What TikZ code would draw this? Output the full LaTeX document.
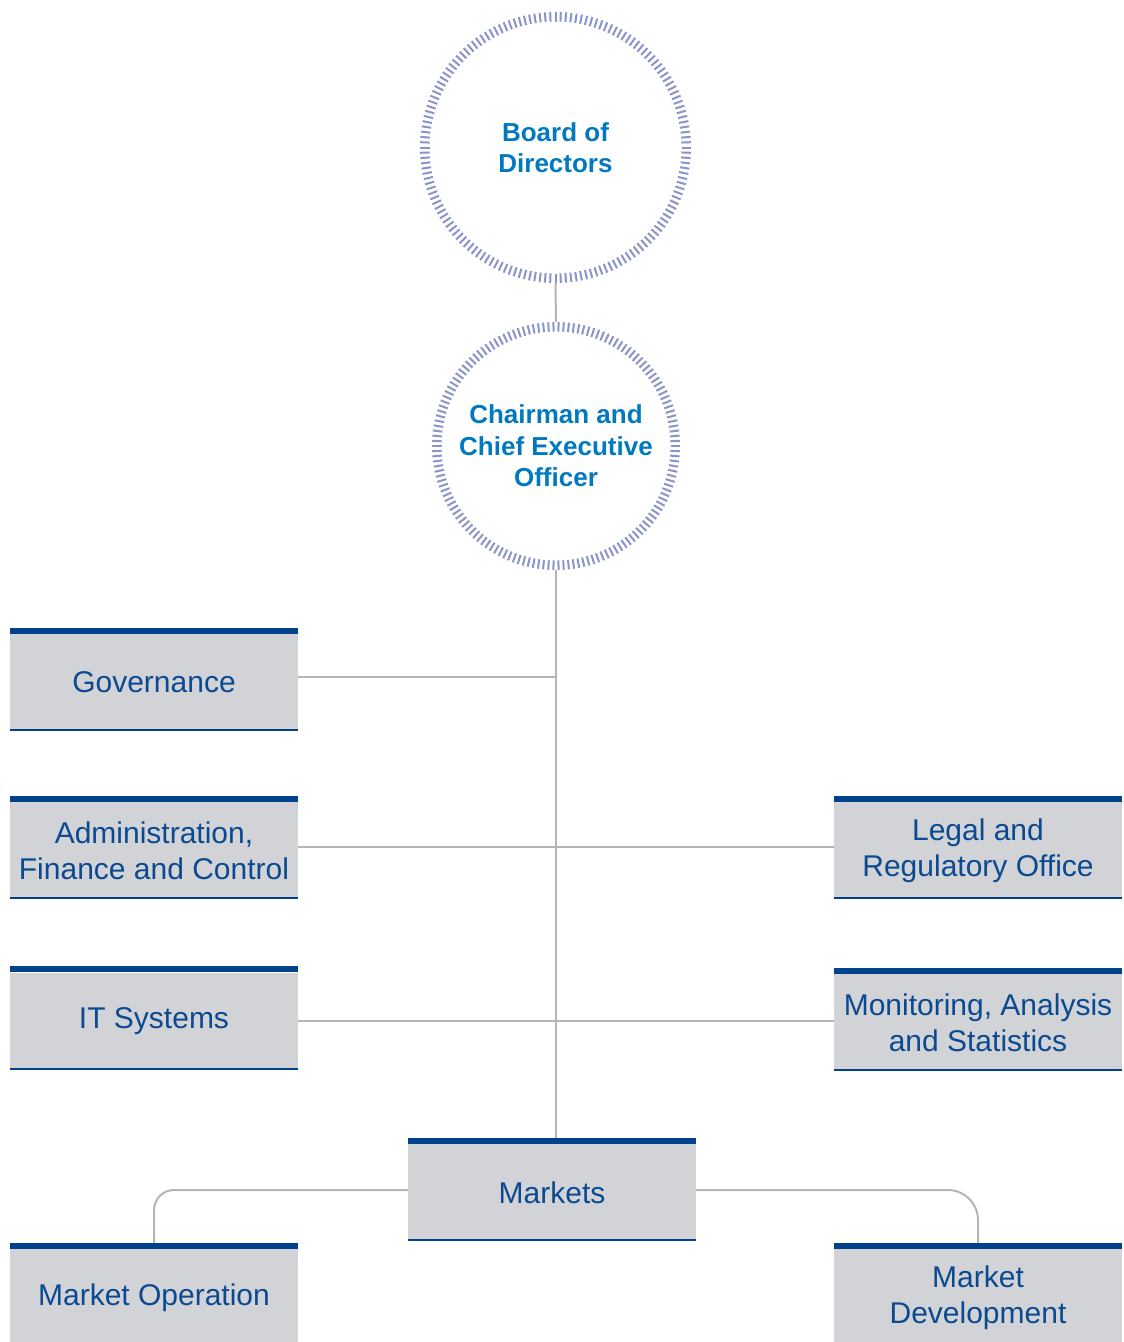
\documentclass[tikz,border=0pt]{standalone}
\usepackage{fontspec}
\setmainfont{Liberation Sans}
\definecolor{boxgray}{HTML}{D1D3D6}
\definecolor{barblue}{HTML}{00428C}
\definecolor{unitblue}{HTML}{0B4A91}
\definecolor{connc}{HTML}{B5B5B3}
\definecolor{circtext}{HTML}{0079C1}
\definecolor{tickc}{HTML}{8A94C8}
\begin{document}
\begin{tikzpicture}[x=1pt,y=-1pt,
  unit/.style={rectangle, fill=boxgray, minimum width=288pt, minimum height=97pt, inner sep=0pt,
    text=unitblue, font=\fontsize{30}{36}\selectfont, align=center},
  roundnode/.style={circle, inner sep=0pt, text=circtext,
    font=\bfseries\fontsize{26}{31.5}\selectfont, align=center},
  conn/.style={draw=connc, line width=2pt},
  tickmark/.style={draw=tickc, line width=2pt},
  topbar/.style={draw=barblue, line width=6pt},
  botline/.style={draw=barblue, line width=2pt}]
\useasboundingbox (0,0) rectangle (1124,1342);

% circles
\node[roundnode, minimum size=271pt] (bod) at (555.5,147.5) {Board of\\Directors};
\node[roundnode, minimum size=248pt] (ceo) at (556,446) {Chairman and\\Chief Executive\\Officer};
\foreach \a in {0,2.25,...,357.9} \draw[tickmark] (bod.center) ++(\a:126) -- ++(\a:9.5);
\foreach \a in {0,2.4,...,357.9} \draw[tickmark] (ceo.center) ++(\a:114.5) -- ++(\a:9.5);

% units
\node[unit] (gov) at (154,682.5) {Governance};
\node[unit] (adm) at (154,850.5) {Administration,\\Finance and Control};
\node[unit] (leg) at (978,850.5) {Legal and\\Regulatory Office};
\node[unit] (its) at (154,1021) {IT Systems};
\node[unit] (mon) at (978,1022.5) {Monitoring, Analysis\\and Statistics};
\node[unit] (mk) at (552,1192.5) {Markets};
\node[unit] (mop) at (154,1297.5) {Market Operation};
\node[unit] (mdv) at (978,1297.5) {Market\\Development};

% connectors
\coordinate (j1) at (555,677);
\coordinate (j2) at (555,847);
\coordinate (j3) at (555,1021);
\draw[conn] (bod.south) -- (ceo.north);
\draw[conn] (ceo.south) -- (ceo.south |- mk.north);
\draw[conn] (gov.east |- j1) -- (j1);
\draw[conn] (adm.east |- j2) -- (leg.west |- j2);
\draw[conn] (its.east |- j3) -- (mon.west |- j3);
\draw[conn, rounded corners=20pt] ([yshift=2.5pt]mk.west) -| (mop.north);
\draw[conn, rounded corners=30pt] ([yshift=2.5pt]mk.east) -| (mdv.north);

% bars
\foreach \n in {gov,adm,leg,its,mon,mk,mop,mdv}
  \draw[topbar] ([yshift=3pt]\n.north west) -- ([yshift=3pt]\n.north east);
\foreach \n in {gov,adm,leg,its,mon,mk}
  \draw[botline] ([yshift=1pt]\n.south west) -- ([yshift=1pt]\n.south east);
\end{tikzpicture}
\end{document}
